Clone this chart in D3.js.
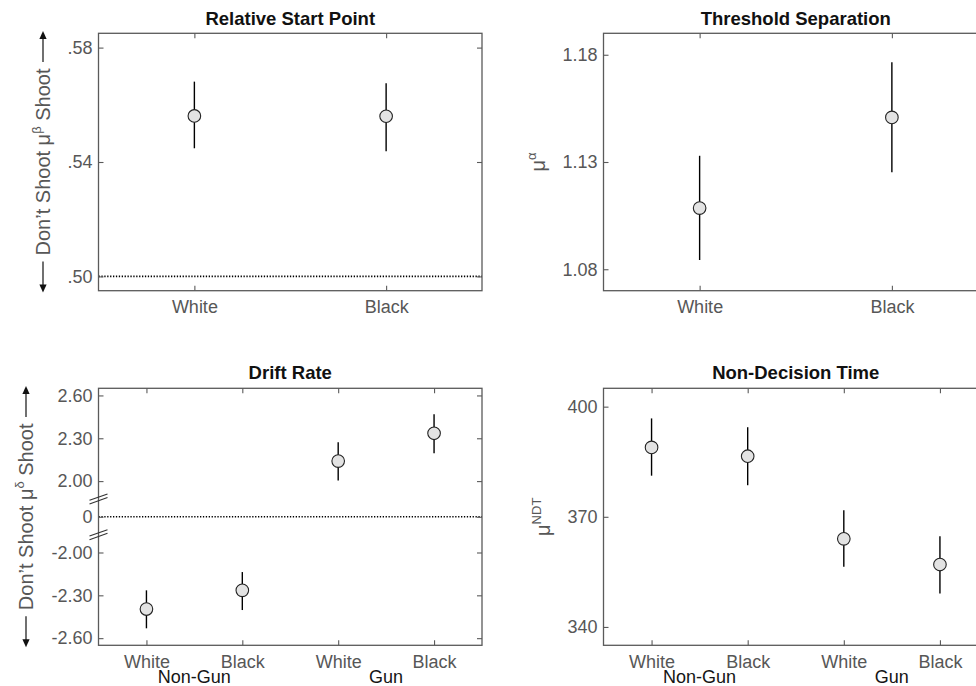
<!DOCTYPE html>
<html>
<head>
<meta charset="utf-8">
<script src="https://cdn.jsdelivr.net/npm/d3@7"></script>
<style>
  html, body { margin: 0; padding: 0; background: #fff; }
  svg { display: block; font-family: "Liberation Sans", Arial, Helvetica, sans-serif; }
</style>
</head>
<body>
<svg id="chart" width="976" height="686"></svg>
<script>
// Relative start point (beta)
const raceCats = ["White", "Black"];
const startMean = [0.5561, 0.5560];
const startLow = [0.5448, 0.5438];
const startHigh = [0.5681, 0.5675];
const startTicks = [0.50, 0.54, 0.58];
const startTickLabels = [".50", ".54", ".58"];

// Threshold separation (alpha)
const threshMean = [1.1085, 1.1508];
const threshLow = [1.0843, 1.1252];
const threshHigh = [1.1329, 1.1765];
const threshTicks = [1.08, 1.13, 1.18];
const threshTickLabels = ["1.08", "1.13", "1.18"];

// Drift rate (delta), object x race
const condCats = ["White", "Black", "White", "Black"];
const objectGroups = ["Non-Gun", "Gun"];
const driftMean = [-2.396, -2.265, 2.140, 2.335];
const driftLow = [-2.531, -2.403, 2.005, 2.195];
const driftHigh = [-2.265, -2.137, 2.273, 2.468];
const driftTicks = [-2.60, -2.30, -2.00, 0, 2.00, 2.30, 2.60];
const driftTickLabels = ["-2.60", "-2.30", "-2.00", "0", "2.00", "2.30", "2.60"];

// Non-decision time (ms)
const ndtMean = [388.9, 386.5, 364.0, 357.0];
const ndtLow = [381.2, 378.6, 356.4, 349.1];
const ndtHigh = [396.8, 394.4, 371.8, 364.7];
const ndtTicks = [340, 370, 400];
const ndtTickLabels = ["340", "370", "400"];

const svg = d3.select("#chart");
const AXIS_COLOR = "#5a5a5a";
const LABEL_COLOR = "#575757";

// broken drift axis: collapse the empty span between -2 and 2 around zero
const foldDrift = v => v >= 2 ? v - 1.75 : (v <= -2 ? v + 1.75 : v * 0.125);

function drawPanel(p) {
  const g = svg.append("g");
  const n = p.cats.length;
  const f = p.fold || (v => v);
  const x = d3.scaleLinear().domain([0.5, n + 0.5]).range([p.x0, p.x1]);
  const y = d3.scaleLinear().domain(p.yDomain).range([p.y1, p.y0]);
  const idx = d3.range(1, n + 1);

  // reference line
  if (p.ref !== undefined) {
    g.append("line")
      .attr("x1", p.x0).attr("x2", p.x1)
      .attr("y1", y(f(p.ref))).attr("y2", y(f(p.ref)))
      .attr("stroke", "#000").attr("stroke-width", 1.6)
      .attr("stroke-dasharray", "1.3,1.6");
  }

  const styleAxis = sel => {
    sel.select(".domain").remove();
    sel.attr("font-size", 18).attr("font-family", null).attr("color", AXIS_COLOR);
    sel.selectAll(".tick line").attr("stroke", AXIS_COLOR).attr("stroke-width", 1.1);
    sel.selectAll(".tick text").attr("fill", LABEL_COLOR);
  };

  g.append("g").attr("transform", `translate(${p.x0},0)`)
    .call(d3.axisLeft(y).tickValues(p.ticks.map(f))
      .tickFormat((d, i) => p.tickLabels[i]).tickSize(-5).tickPadding(6))
    .call(styleAxis);
  g.append("g").attr("transform", `translate(${p.x1},0)`)
    .call(d3.axisRight(y).tickValues(p.ticks.map(f)).tickFormat("").tickSize(-5))
    .call(styleAxis);
  g.append("g").attr("transform", `translate(0,${p.y1})`)
    .call(d3.axisBottom(x).tickValues(idx)
      .tickFormat((d, i) => p.cats[i]).tickSize(-5).tickPadding(10))
    .call(styleAxis);
  g.append("g").attr("transform", `translate(0,${p.y0})`)
    .call(d3.axisTop(x).tickValues(idx).tickFormat("").tickSize(-5))
    .call(styleAxis);

  // frame
  g.append("rect")
    .attr("x", p.x0).attr("y", p.y0)
    .attr("width", p.x1 - p.x0).attr("height", p.y1 - p.y0)
    .attr("fill", "none").attr("stroke", AXIS_COLOR).attr("stroke-width", 1.3);

  // axis break marks
  if (p.breaks) {
    p.breaks.forEach(b => {
      const yb = y(f(b));
      [-1.8, 1.8].forEach(off => {
        g.append("line")
          .attr("x1", p.x0 - 9).attr("y1", yb + off + 3.2)
          .attr("x2", p.x0 + 9).attr("y2", yb + off - 3.2)
          .attr("stroke", "#333").attr("stroke-width", 1.1);
      });
    });
  }

  // group labels under the category ticks
  if (p.groups) {
    p.groups.forEach((gl, i) => {
      g.append("text")
        .attr("x", x(2 * i + 1.5)).attr("y", p.y1 + 38)
        .attr("text-anchor", "middle").attr("font-size", 18)
        .attr("fill", "#151515").text(gl);
    });
  }

  // error bars and means
  const pts = g.append("g");
  idx.forEach((c, i) => {
    pts.append("line")
      .attr("x1", x(c)).attr("x2", x(c))
      .attr("y1", y(f(p.low[i]))).attr("y2", y(f(p.high[i])))
      .attr("stroke", "#000").attr("stroke-width", 1.4);
  });
  idx.forEach((c, i) => {
    pts.append("circle")
      .attr("cx", x(c)).attr("cy", y(f(p.mean[i]))).attr("r", 6.3)
      .attr("fill", "#e3e3e3").attr("stroke", "#222").attr("stroke-width", 1.1);
  });

  // title
  g.append("text")
    .attr("x", (p.x0 + p.x1) / 2).attr("y", p.titleY)
    .attr("text-anchor", "middle").attr("font-size", 18.5)
    .attr("font-weight", "bold").attr("fill", "#111").text(p.title);

  // y label
  const cy = (p.y0 + p.y1) / 2;
  const lg = g.append("g").attr("transform", `translate(${p.labelX},${cy}) rotate(-90)`);
  const t = lg.append("text").attr("text-anchor", "middle")
    .attr("font-size", 20).attr("fill", LABEL_COLOR);
  t.append("tspan").text(p.labelPre);
  t.append("tspan").attr("font-size", 13).attr("dy", -9).text(p.labelSup);
  if (p.labelPost) t.append("tspan").attr("dy", 9).text(p.labelPost);

  if (p.arrows) {
    const bb = t.node().getBBox();
    const gap = 6, len = 31, ay = -7;
    [[bb.x + bb.width + gap, 1], [bb.x - gap, -1]].forEach(([s, dir]) => {
      const e = s + dir * len;
      lg.append("line")
        .attr("x1", s).attr("x2", e - dir * 6).attr("y1", ay).attr("y2", ay)
        .attr("stroke", "#111").attr("stroke-width", 1.2);
      lg.append("path")
        .attr("d", `M${e},${ay}L${e - dir * 8},${ay - 3.6}L${e - dir * 8},${ay + 3.6}Z`)
        .attr("fill", "#111");
    });
  }
}

const L0 = 98.5, L1 = 482, R0 = 603.5, R1 = 988;
const T0 = 33.3, T1 = 290.7, B0 = 388.3, B1 = 645.3;

drawPanel({
  x0: L0, x1: L1, y0: T0, y1: T1, cats: raceCats,
  yDomain: [0.495, 0.585], ticks: startTicks, tickLabels: startTickLabels,
  mean: startMean, low: startLow, high: startHigh, ref: 0.50,
  title: "Relative Start Point", titleY: 25,
  labelX: 50, labelPre: "Don\u2019t Shoot  \u03bc", labelSup: "\u03b2", labelPost: " Shoot", arrows: true
});

drawPanel({
  x0: R0, x1: R1, y0: T0, y1: T1, cats: raceCats,
  yDomain: [1.07, 1.19], ticks: threshTicks, tickLabels: threshTickLabels,
  mean: threshMean, low: threshLow, high: threshHigh,
  title: "Threshold Separation", titleY: 25,
  labelX: 545, labelPre: "\u03bc", labelSup: "\u03b1"
});

drawPanel({
  x0: L0, x1: L1, y0: B0, y1: B1, cats: condCats, groups: objectGroups,
  yDomain: [-0.9, 0.9], fold: foldDrift, breaks: [1, -1],
  ticks: driftTicks, tickLabels: driftTickLabels,
  mean: driftMean, low: driftLow, high: driftHigh, ref: 0,
  title: "Drift Rate", titleY: 378.5,
  labelX: 33, labelPre: "Don\u2019t Shoot  \u03bc", labelSup: "\u03b4", labelPost: " Shoot", arrows: true
});

drawPanel({
  x0: R0, x1: R1, y0: B0, y1: B1, cats: condCats, groups: objectGroups,
  yDomain: [335, 405], ticks: ndtTicks, tickLabels: ndtTickLabels,
  mean: ndtMean, low: ndtLow, high: ndtHigh,
  title: "Non-Decision Time", titleY: 378.5,
  labelX: 550, labelPre: "\u03bc", labelSup: "NDT"
});
</script>
</body>
</html>
